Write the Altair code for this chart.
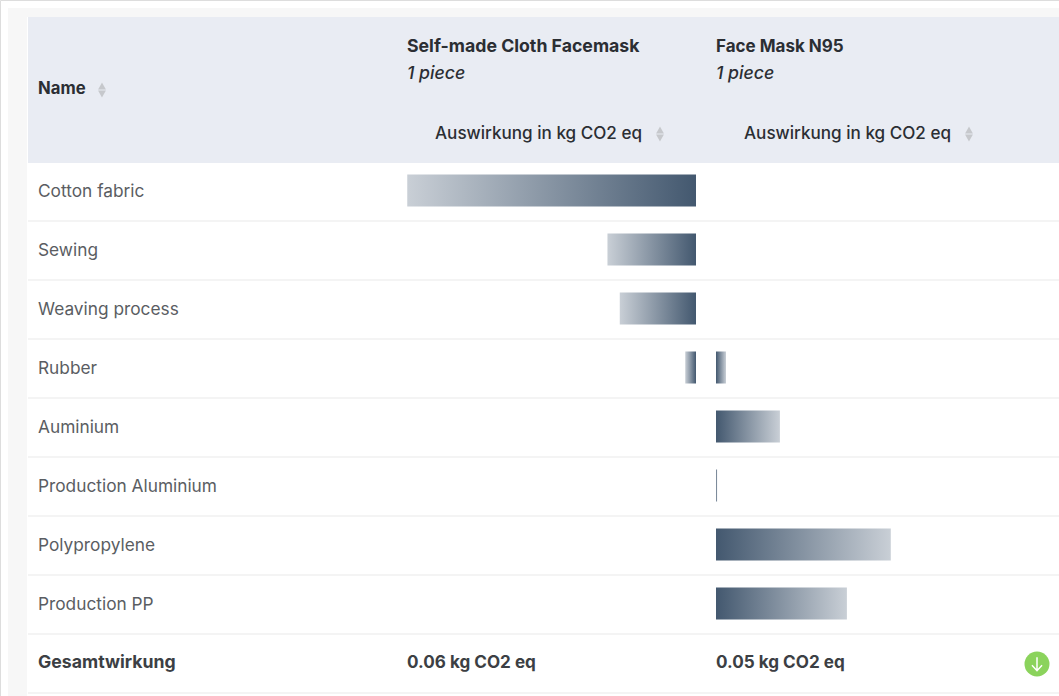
import altair as alt
import pandas as pd

# Impact per material, kg CO2 eq, for each product
materials = ["Cotton fabric", "Sewing", "Weaving process", "Rubber", "Auminium",
             "Production Aluminium", "Polypropylene", "Production PP", "Gesamtwirkung"]
cloth_mask = [0.0375, 0.0115, 0.0099, 0.0014, None, None, None, None, None]
n95_mask = [None, None, None, 0.0013, 0.0083, 0.00015, 0.0227, 0.0170, None]
totals = ["0.06 kg CO2 eq", "0.05 kg CO2 eq"]

FONT = "Inter"
LIGHT, DARK = "#c9cfd6", "#43586f"

df = pd.DataFrame({"name": materials, "cloth": cloth_mask, "n95": n95_mask})
rows = alt.Scale(domain=materials, range=[161, 692], paddingInner=0, paddingOuter=0)
y_row = alt.Y("name:N", scale=rows, axis=None, sort=None)


def box(x, x2, y, y2, color):
    return alt.Chart(df.head(1)).mark_rect(color=color).encode(
        x=alt.value(x), x2=alt.value(x2), y=alt.value(y), y2=alt.value(y2))


def label(text, x, y, size=17, weight=400, style="normal", color="#2b2e33"):
    return alt.Chart(alt.Data(values=[{"t": text}])).mark_text(
        align="left", baseline="middle", font=FONT, fontSize=size,
        fontWeight=weight, fontStyle=style, color=color, dy=1,
    ).encode(x=alt.value(x), y=alt.value(y), text="t:N")


def sorter(x, y):
    up = alt.Chart(df.head(1)).mark_point(shape="triangle-up", filled=True, size=62,
                                          color="#c6c8cc", opacity=1).encode(
        x=alt.value(x), y=alt.value(y - 4))
    down = alt.Chart(df.head(1)).mark_point(shape="triangle-down", filled=True, size=62,
                                            color="#c6c8cc", opacity=1).encode(
        x=alt.value(x), y=alt.value(y + 4))
    return up + down


def ramp(first, last):
    return alt.Gradient(gradient="linear", x1=0, x2=1, y1=0, y2=0,
                        stops=[alt.GradientStop(color=first, offset=0),
                               alt.GradientStop(color=last, offset=1)])


# Cloth bars grow leftwards from their baseline, N95 bars grow rightwards
cloth_bars = alt.Chart(df.dropna(subset=["cloth"])).mark_bar(
    height=32, color=ramp(LIGHT, DARK)).encode(
    x=alt.X("cloth:Q", axis=None, scale=alt.Scale(domain=[0, 0.06], range=[696, 234])),
    y=y_row)
n95_bars = alt.Chart(df.dropna(subset=["n95"])).mark_bar(
    height=32, color=ramp(DARK, LIGHT)).encode(
    x=alt.X("n95:Q", axis=None, scale=alt.Scale(domain=[0, 0.06], range=[716, 1178])),
    y=y_row)

separators = alt.Chart(df).mark_rule(color="#f0f0f1", strokeWidth=1.5, yOffset=1).encode(
    x=alt.value(28), x2=alt.value(1059),
    y=alt.Y("name:N", scale=rows, axis=None, sort=None, bandPosition=1))

row_names = alt.Chart(df.iloc[:-1]).mark_text(
    align="left", baseline="middle", font=FONT, fontSize=17.3, color="#5a5d62", dy=1,
).encode(x=alt.value(38), y=y_row, text="name:N")

badge = alt.Chart(df.head(1)).mark_point(
    shape="circle", filled=True, size=625, color="#8bd35c", opacity=1).encode(
    x=alt.value(1037), y=alt.value(664))
arrow = alt.Chart(df.head(1)).mark_point(
    shape="M0,-1L0,1M-0.75,0.2L0,1L0.75,0.2", filled=False, size=180,
    color="white", opacity=1, strokeWidth=1.5).encode(
    x=alt.value(1037), y=alt.value(664))

chart = alt.layer(
    box(8, 1059, 8, 17, "#f7f7f7"),
    box(8, 27, 8, 696, "#f7f7f7"),
    box(28, 1059, 17, 163, "#e9ecf3"),
    separators,
    cloth_bars,
    n95_bars,
    row_names,
    label("Name", 38, 88, size=16.7, weight=700),
    label("Self-made Cloth Facemask", 407, 46, size=17.7, weight=700),
    label("1 piece", 407, 73, size=17.7, weight=500, style="italic"),
    label("Face Mask N95", 716, 46, size=17, weight=700),
    label("1 piece", 716, 73, size=17.7, weight=500, style="italic"),
    label("Auswirkung in kg CO2 eq", 435, 133, size=17.1, weight=500),
    label("Auswirkung in kg CO2 eq", 744, 133, size=17.1, weight=500),
    label("Gesamtwirkung", 38, 662, size=17.7, weight=700, color="#3c3f44"),
    label(totals[0], 407, 662, size=17.1, weight=700, color="#3c3f44"),
    label(totals[1], 716, 662, size=17.1, weight=700, color="#3c3f44"),
    sorter(102, 90),
    sorter(660, 134),
    sorter(969, 134),
    badge,
    arrow,
).resolve_scale(x="independent").properties(
    width=1059, height=696, padding=0, autosize=alt.AutoSizeParams(type="none"),
).configure_view(stroke=None).configure(background="white")

chart.save("out.html", embed_options={"renderer": "svg", "actions": False})
